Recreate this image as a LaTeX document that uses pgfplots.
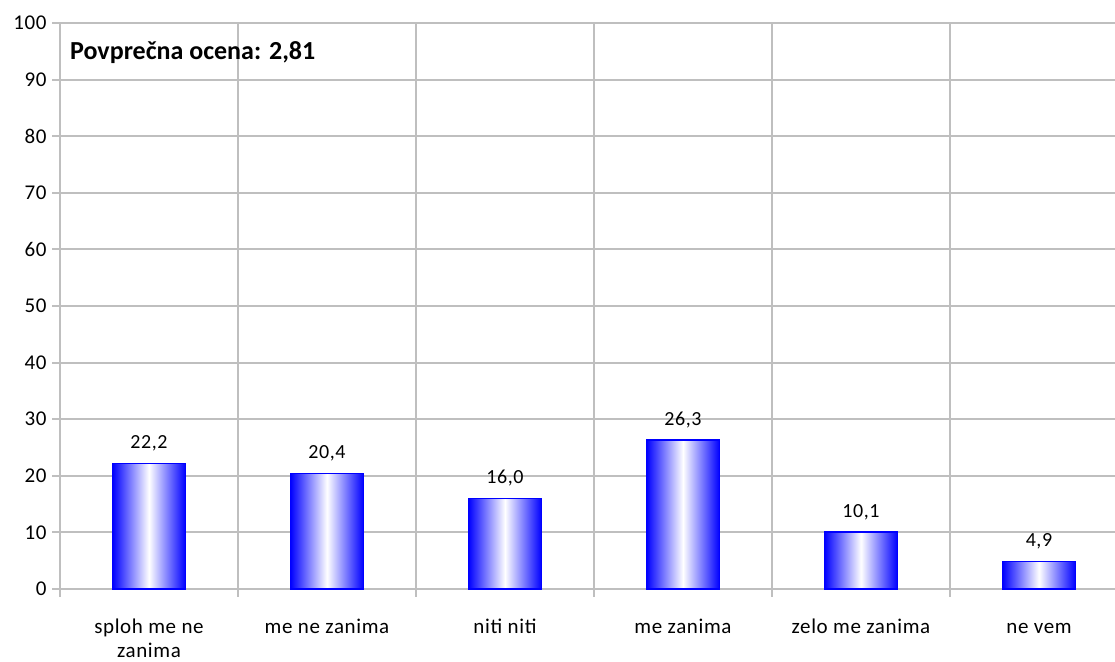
\documentclass[border=0pt]{standalone}
\usepackage{fontspec}
\setmainfont{Carlito}
\usepackage{pgfplots}
\pgfplotsset{compat=1.18}
\definecolor{gridgray}{RGB}{191,191,191}
\definecolor{barblue}{RGB}{0,0,255}
\pgfplotsset{
  mybar/.style={ybar, bar width=73pt, bar shift=0pt, draw=barblue, line width=1.5pt,
    left color=barblue, right color=barblue, middle color=white},
}
\begin{document}
\begin{tikzpicture}
\begin{axis}[
  at={(60pt,72pt)}, anchor=south west,
  scale only axis, width=1055pt, height=566pt,
  xmin=-0.5, xmax=5.427, ymin=0, ymax=100,
  axis lines=left,
  axis line style={-, gridgray, line width=2pt},
  /pgf/number format/assume math mode=true,
  tick align=outside,
  major tick length=8pt,
  tick style={gridgray, line width=2pt},
  xtick={-0.5,0.5,1.5,2.5,3.5,4.5},
  xticklabels={},
  xmajorgrids,
  ytick={0,10,...,100},
  ymajorgrids,
  major grid style={gridgray, line width=2pt},
  extra x ticks={0,1,2,3,4,5},
  extra x tick labels={\strut sploh me ne\\zanima, \strut me ne zanima, \strut niti niti, \strut me zanima, \strut zelo me zanima, \strut ne vem},
  extra x tick style={major tick length=0pt, grid=none},
  xticklabel style={align=center, font=\fontsize{21}{24}\selectfont\addfontfeatures{LetterSpace=3}, yshift=-24pt, text=black},
  yticklabel style={font=\fontsize{21}{24}\selectfont\addfontfeatures{LetterSpace=3}, text=black, xshift=-2pt},
  nodes near coords,
  every node near coord/.append style={font=\fontsize{20}{24}\selectfont\addfontfeatures{LetterSpace=3}, text=black, yshift=8pt,
     /pgf/number format/.cd, fixed, fixed zerofill, precision=1, use comma},
  clip=false,
]
\addplot[mybar] coordinates {(0,22.2)};
\addplot[mybar] coordinates {(1,20.4)};
\addplot[mybar] coordinates {(2,16.0)};
\addplot[mybar] coordinates {(3,26.3)};
\addplot[mybar] coordinates {(4,10.1)};
\addplot[mybar] coordinates {(5,4.9)};
\node[anchor=west, font=\bfseries\fontsize{26}{30}\selectfont, inner sep=0pt] at (axis cs:-0.444,94.7) {Povprečna ocena: 2,81};
\end{axis}
\pgfresetboundingbox
\path[use as bounding box] (0,0) rectangle (1115pt,661pt);
\end{tikzpicture}
\end{document}
